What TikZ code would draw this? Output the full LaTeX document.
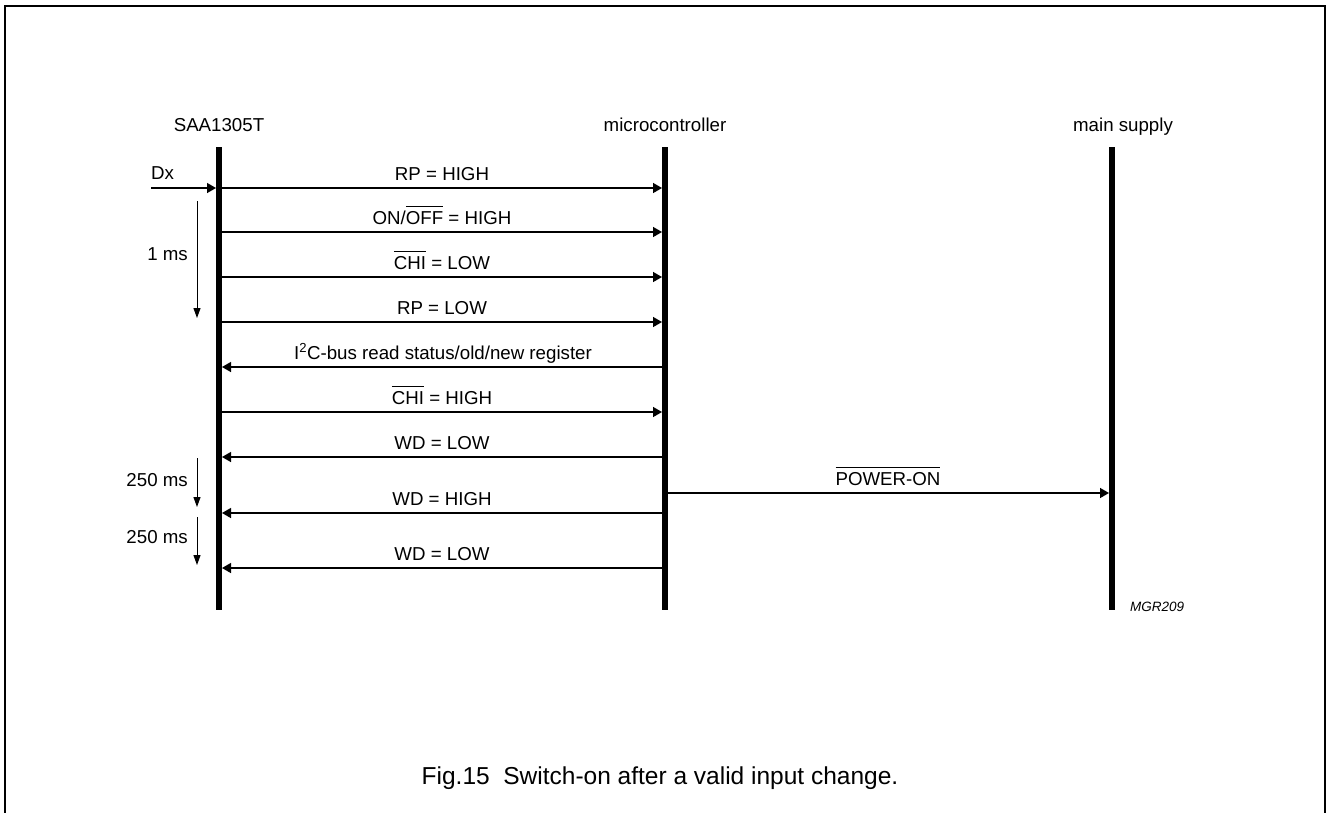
\documentclass[tikz,border=0pt]{standalone}
\usepackage{fontspec}
\setmainfont{Liberation Sans}
\usetikzlibrary{arrows.meta}
\newcommand\myovl[1]{\leavevmode\vbox{\hrule height 0.9pt\kern 4.5pt\hbox{#1}}}
\begin{document}
\begin{tikzpicture}[x=1pt,y=-1pt,
  lifeline/.style={line width=6pt},
  msg/.style={line width=1.4pt,-{Triangle[length=9pt,width=10pt]},shorten >=3pt},
  tickarrow/.style={line width=1pt,-{Triangle[length=10pt,width=7pt]}},
  lbl/.style={font=\fontsize{18.7}{22}\selectfont,inner sep=0pt,anchor=base},
  tlbl/.style={font=\fontsize{18.7}{22}\selectfont,inner sep=0pt,anchor=base east},
  frame/.style={line width=1.5pt}]
\useasboundingbox (0,0) rectangle (1327,812);
\draw[frame] (5,815) -- (5,6) -- (1325,6) -- (1325,815);

% headers
\node[lbl] (hS) at (219,131) {SAA1305T};
\node[lbl] (hM) at (665,131) {microcontroller};
\node[lbl] (hP) at (1123,131) {main supply};

% lifelines
\coordinate (sT) at (219,147); \coordinate (sB) at (219,610);
\coordinate (mT) at (665,147); \coordinate (mB) at (665,610);
\coordinate (pT) at (1112,147); \coordinate (pB) at (1112,610);
\draw[lifeline] (sT) -- (sB);
\draw[lifeline] (mT) -- (mB);
\draw[lifeline] (pT) -- (pB);

% Dx input
\coordinate (dx) at (151,188);
\node[lbl,anchor=base west] (ldx) at (151,179) {Dx};

% message end points
\foreach \i/\y in {1/188,2/232,3/277,4/322,5/367,6/412,7/457,8/513,9/568,10/493}{
  \coordinate (s\i) at (219,\y);
  \coordinate (m\i) at (665,\y);
  \coordinate (p\i) at (1112,\y);
}
\draw[msg] (dx) -- (s1);
\draw[msg] (s1) -- (m1);
\draw[msg] (s2) -- (m2);
\draw[msg] (s3) -- (m3);
\draw[msg] (s4) -- (m4);
\draw[msg] (m5) -- (s5);
\draw[msg] (s6) -- (m6);
\draw[msg] (m7) -- (s7);
\draw[msg] (m8) -- (s8);
\draw[msg] (m9) -- (s9);
\draw[msg] (m10) -- (p10);

\node[lbl] (l1) at (442,180) {RP = HIGH};
\node[lbl] (l2) at (442,224) {ON/\myovl{OFF} = HIGH};
\node[lbl] (l3) at (442,269) {\myovl{CHI} = LOW};
\node[lbl] (l4) at (442,314) {RP = LOW};
\node[lbl] (l5) at (443,359) {I\textsuperscript{2}C-bus read status/old/new register};
\node[lbl] (l6) at (442,404) {\myovl{CHI} = HIGH};
\node[lbl] (l7) at (442,449) {WD = LOW};
\node[lbl] (l8) at (442,505) {WD = HIGH};
\node[lbl] (l9) at (442,560) {WD = LOW};
\node[lbl] (l10) at (888,485) {\myovl{POWER-ON}};

% timing arrows
\coordinate (t1a) at (197,201); \coordinate (t1b) at (197,318);
\coordinate (t2a) at (197,458); \coordinate (t2b) at (197,507);
\coordinate (t3a) at (197,517); \coordinate (t3b) at (197,565);
\draw[tickarrow] (t1a) -- (t1b);
\draw[tickarrow] (t2a) -- (t2b);
\draw[tickarrow] (t3a) -- (t3b);
\node[tlbl] (lt1) at (188,260) {1 ms};
\node[tlbl] (lt2) at (188,486) {250 ms};
\node[tlbl] (lt3) at (188,543) {250 ms};

\node[font=\fontsize{13.5}{16}\selectfont\itshape,inner sep=0pt,anchor=base west] (code) at (1130,611) {MGR209};

\node[font=\fontsize{24.5}{29}\selectfont,inner sep=0pt,anchor=base] (cap) at (660,784) {Fig.15\ \ Switch-on after a valid input change.};
\end{tikzpicture}
\end{document}
